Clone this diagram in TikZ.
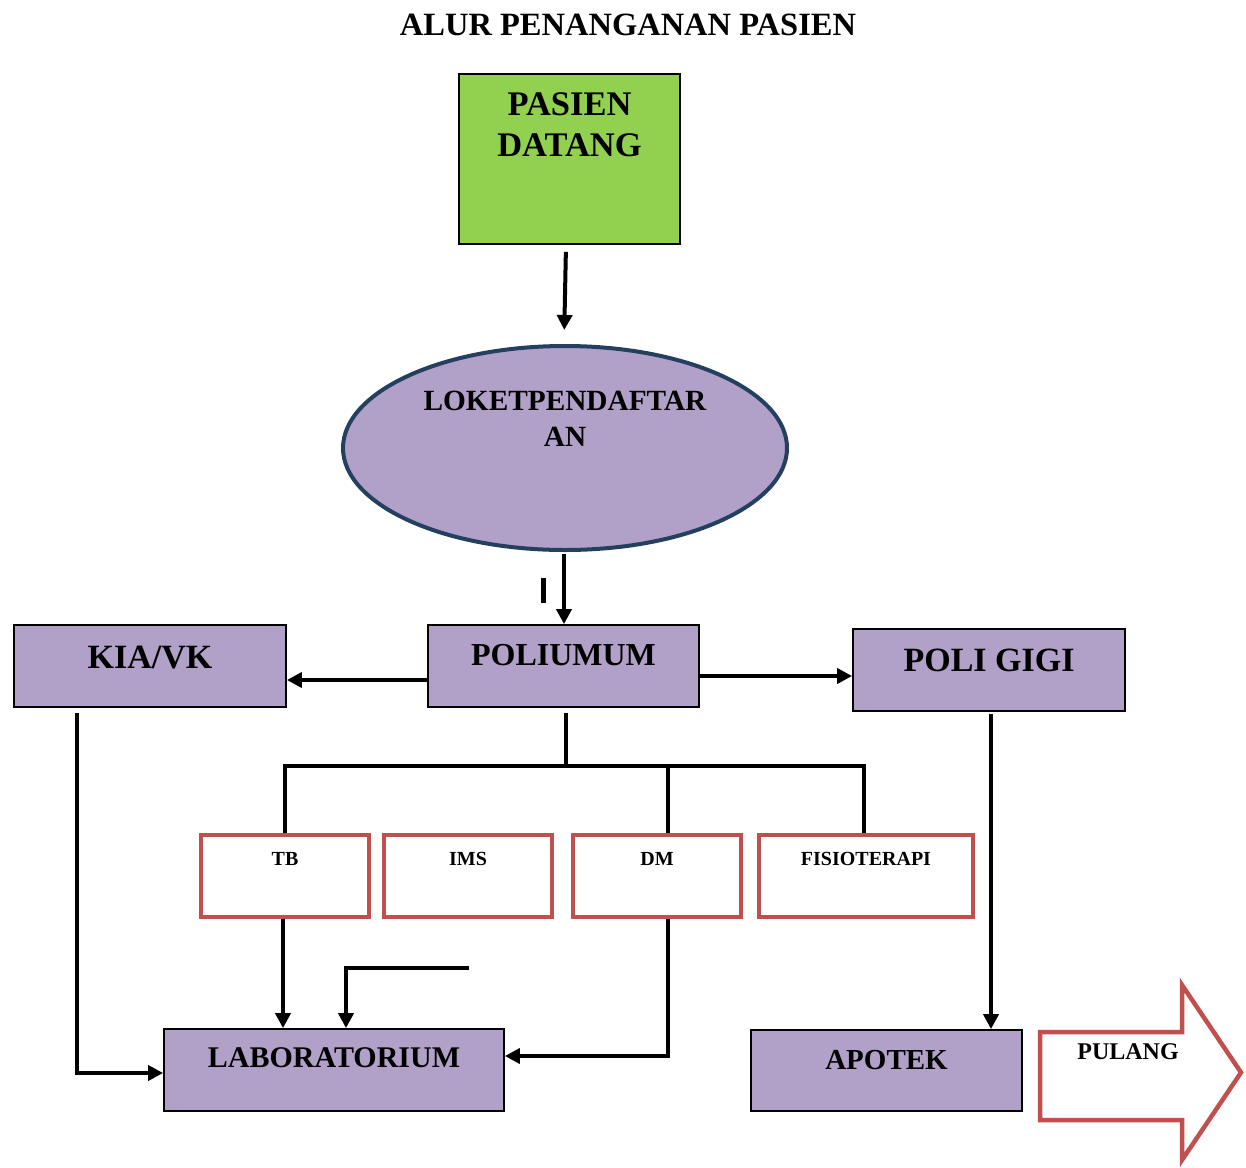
\documentclass[tikz,border=0pt]{standalone}
\usepackage{fontspec}
\setmainfont{Liberation Serif}
\usetikzlibrary{arrows.meta,shapes.geometric}
\definecolor{lav}{HTML}{B1A0C7}
\definecolor{grn}{HTML}{92D050}
\definecolor{redb}{HTML}{C0504D}
\definecolor{navy}{HTML}{243F60}
\begin{document}
\begin{tikzpicture}[x=1pt,y=-1pt,
  pbox/.style={draw=black, line width=1.8pt, fill=lav, rectangle, inner sep=0pt},
  rbox/.style={draw=redb, line width=4.5pt, fill=white, rectangle, minimum width=168pt, minimum height=82pt, inner sep=0pt},
  conn/.style={line width=4pt, line join=miter, -{Triangle[length=15pt,width=15pt]}},
  wire/.style={line width=4pt, line join=miter},
  lbl/.style={anchor=base, inner sep=0pt, font=\bfseries\fontsize{#1}{#1}\selectfont},
]
\useasboundingbox (0,0) rectangle (1246,1167);

% title
\node[lbl=32.5] (title) at (628,35) {ALUR PENANGANAN PASIEN};

% boxes
\node[draw=black, line width=1.8pt, fill=grn, rectangle, inner sep=0pt, minimum width=221pt, minimum height=170pt] (pasien) at (569.5,159) {};
\node[lbl=34.5] (pasienA) at (569.5,115) {PASIEN};
\node[lbl=34.5] (pasienB) at (569.5,156) {DATANG};

\node[ellipse, draw=navy, line width=4pt, fill=lav, minimum width=444pt, minimum height=204pt, inner sep=0pt] (loket) at (565,448) {};
\node[lbl=29.3] (loketA) at (565,410) {LOKETPENDAFTAR};
\node[lbl=29.3] (loketB) at (565,446) {AN};

\node[pbox, minimum width=272pt, minimum height=82pt] (kia) at (150,666) {};
\node[lbl=34] (kiat) at (150,668) {KIA/VK};
\node[pbox, minimum width=271pt, minimum height=82pt] (poli) at (563.5,666) {};
\node[lbl=32] (polit) at (563.5,665.5) {POLIUMUM};
\node[pbox, minimum width=272pt, minimum height=82pt] (gigi) at (989,670) {};
\node[lbl=34] (gigit) at (989,671) {POLI GIGI};

\node[rbox] (tb) at (285,876) {};
\node[lbl=20] (tbt) at (285,865.5) {TB};
\node[rbox] (ims) at (468,876) {};
\node[lbl=20] (imst) at (468,865.5) {IMS};
\node[rbox] (dm) at (657,876) {};
\node[lbl=20] (dmt) at (657,865.5) {DM};
\node[rbox, minimum width=214pt] (fis) at (866,876) {};
\node[lbl=20] (fist) at (866,865.5) {FISIOTERAPI};

\node[pbox, minimum width=340pt, minimum height=82pt] (lab) at (334,1070) {};
\node[lbl=30] (labt) at (334,1067) {LABORATORIUM};
\node[pbox, minimum width=271pt, minimum height=81pt] (apotek) at (886.5,1070.5) {};
\node[lbl=29] (apotekt) at (886.5,1069.5) {APOTEK};

% PULANG arrow shape
\draw[draw=redb, line width=4.5pt, fill=white, line join=miter]
  (1040,1032) -- (1182,1032) -- (1182,985) -- (1241,1072.5) -- (1182,1160) -- (1182,1120) -- (1040,1120) -- cycle;
\node[lbl=24] (pulang) at (1128,1059) {PULANG};

% connectors
\draw[conn, shorten <=7pt, shorten >=14pt] ([xshift=-3.5pt]pasien.south) -- ([xshift=-1pt]loket.north);
\draw[conn, shorten <=2pt] ([xshift=-1pt]loket.south) -- ([xshift=0.5pt]poli.north);
\draw[line width=5pt] (543,578) -- (543,603);

\draw[conn] ([yshift=-14pt]poli.west) -- ([yshift=-14pt]poli.west -| kia.east);
\draw[conn] ([yshift=-10pt]poli.east) -- ([yshift=-10pt]poli.east -| gigi.west);

\coordinate (busL) at (285,766);
\coordinate (busM) at (566,766);
\coordinate (busD) at (668,766);
\coordinate (busR) at (864,766);
\draw[wire, shorten <=5pt] (busM |- poli.south) -- (busM);
\draw[wire] ([xshift=-2pt]busL) -- ([xshift=2pt]busR);
\draw[wire] ([yshift=-2pt]busL) -- (busL |- tb.north);
\draw[wire] (busD) -- (busD |- dm.north);
\draw[wire] ([yshift=-2pt]busR) -- (busR |- fis.north);

\draw[conn] ([xshift=-2pt]tb.south) -- ([xshift=-2pt]tb.south |- lab.north);
\coordinate (strayA) at (469,968);
\coordinate (strayB) at (346,968);
\draw[conn] (strayA) -- (strayB) -- (strayB |- lab.north);
\draw[conn] ([xshift=11pt]dm.south) |- ([yshift=14pt]lab.east);
\draw[conn, shorten <=5pt] ([xshift=-73pt]kia.south) |- ([yshift=-3pt]lab.west);
\draw[conn, shorten <=2pt] ([xshift=2pt]gigi.south) -- ([xshift=2pt]gigi.south |- apotek.north);
\end{tikzpicture}
\end{document}
